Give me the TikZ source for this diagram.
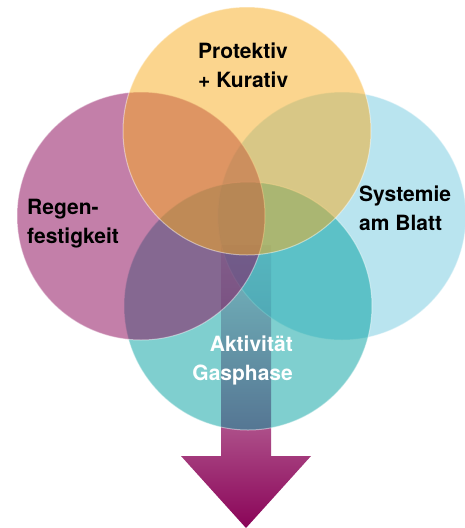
\documentclass[tikz,border=0pt]{standalone}
\usepackage{fontspec}
\setmainfont{TeX Gyre Heros}
\definecolor{prot}{RGB}{248,172,30}
\definecolor{regen}{RGB}{140,10,90}
\definecolor{syst}{RGB}{115,201,223}
\definecolor{gas}{RGB}{0,160,159}
\definecolor{arrtop}{RGB}{236,214,226}
\definecolor{arrbot}{RGB}{138,4,88}
\tikzset{blob/.style={
  fill opacity=0.5,
  draw=white,
  draw opacity=0.45,
  line width=1pt
}}
\tikzset{lbl/.style={
  font=\bfseries\fontsize{21}{28.5}\selectfont,
  inner sep=0pt
}}

\begin{document}
\begin{tikzpicture}[x=1pt,y=-1pt]
    \useasboundingbox (0,0) rectangle (465,528);
    \shade[top color=arrtop,bottom color=arrbot]
      (221,245) -- (271,245) -- (271,456) -- (311,456)
      -- (246,528) -- (181,456) -- (221,456) -- cycle;
    \filldraw[blob,fill=syst] (342,216) circle[radius=124];
    \filldraw[blob,fill=gas] (248,306) circle[radius=124];
    \filldraw[blob,fill=regen,fill opacity=0.52] (141,216) circle[radius=124];
    \filldraw[blob,fill=prot] (247,131) circle[radius=124];
    \node[lbl,anchor=base west,align=left] (P) at (198,87)
      {Protektiv\\+ Kurativ};
    \node[lbl,anchor=base west,align=left] (R) at (27,243)
      {Regen-\\festigkeit};
    \node[lbl,anchor=base west,align=left] (S) at (359,230)
      {Systemie\\am Blatt};
    \node[lbl,anchor=base east,align=right,text=white] (G) at (293,380)
      {Aktivität\\Gasphase};
  \end{tikzpicture}
\end{document}
